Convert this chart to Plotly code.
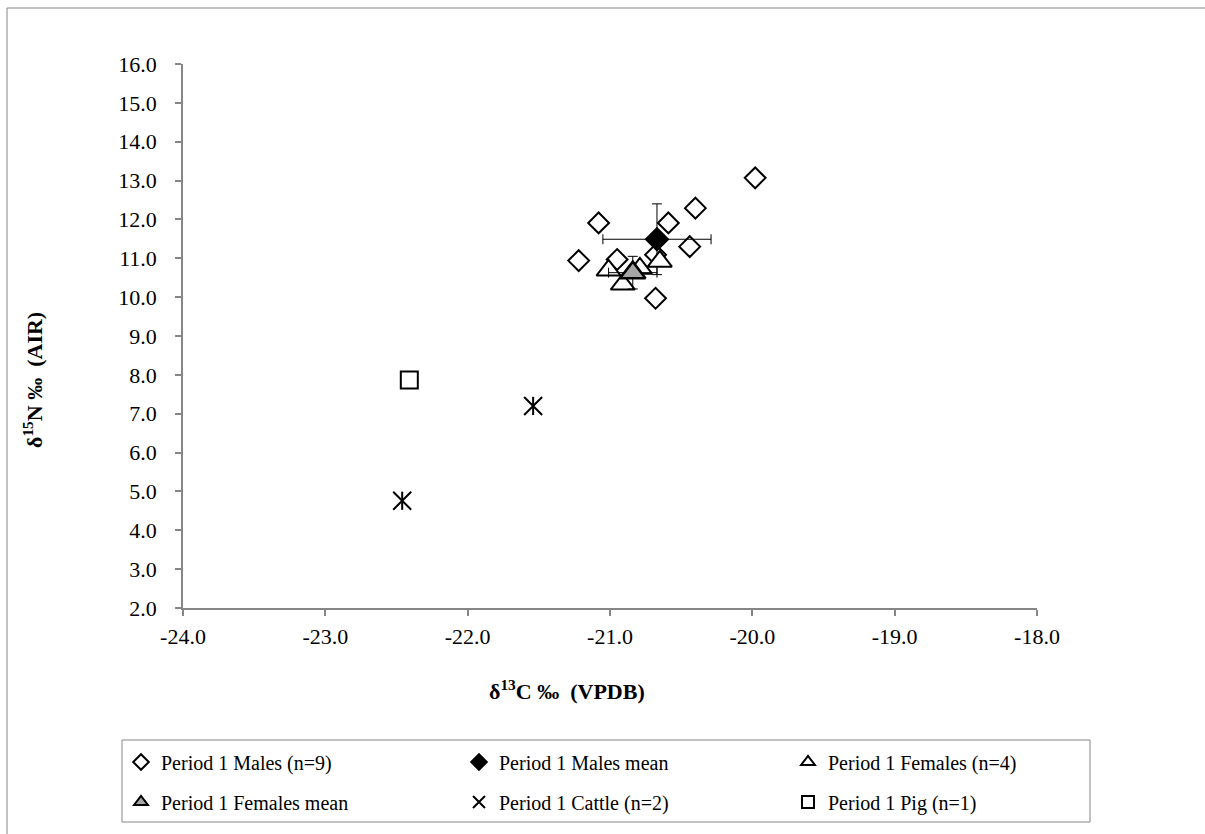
import plotly.graph_objects as go

# ---- data ----
males_x = [-19.98, -20.40, -21.08, -20.59, -20.44, -21.22, -20.95, -20.68, -20.68]
males_y = [13.07, 12.29, 11.91, 11.91, 11.30, 10.94, 10.97, 11.09, 9.97]

males_mean_x = [-20.67]
males_mean_y = [11.49]
males_sd_x = [0.38]
males_sd_y = [0.91]

females_x = [-21.01, -20.91, -20.79, -20.65]
females_y = [10.69, 10.33, 10.74, 10.92]

females_mean_x = [-20.84]
females_mean_y = [10.63]
females_sd_x = [0.17]
females_sd_y = [0.42]

cattle_x = [-21.54, -22.46]
cattle_y = [7.20, 4.76]

pig_x = [-22.41]
pig_y = [7.87]

x_ticks = [-24, -23, -22, -21, -20, -19, -18]
x_tick_labels = ["-24.0", "-23.0", "-22.0", "-21.0", "-20.0", "-19.0", "-18.0"]
y_ticks = [2, 3, 4, 5, 6, 7, 8, 9, 10, 11, 12, 13, 14, 15, 16]
y_tick_labels = ["2.0", "3.0", "4.0", "5.0", "6.0", "7.0", "8.0", "9.0",
                 "10.0", "11.0", "12.0", "13.0", "14.0", "15.0", "16.0"]

FONT = "Liberation Serif"
AXIS_GREY = "#868686"

# plot area in pixels (for placing paper-referenced extras)
W, H = 1205, 834
L, R, T, B = 183, 168, 64, 226
PW, PH = W - L - R, H - T - B


def px_x(p):
    return (p - L) / PW


def px_y(p):
    return (H - B - p) / PH


fig = go.Figure()

fig.add_trace(go.Scatter(
    x=males_x, y=males_y, mode="markers", name="Period 1 Males (n=9)",
    legend="legend",
    marker=dict(symbol="diamond", size=16, color="white",
                line=dict(color="black", width=2)),
))

fig.add_trace(go.Scatter(
    x=males_mean_x, y=males_mean_y, mode="markers", showlegend=False,
    marker=dict(size=1, color="rgba(0,0,0,0)"),
    error_x=dict(type="data", array=males_sd_x, color="black", thickness=1, width=5),
    error_y=dict(type="data", array=males_sd_y, color="black", thickness=1, width=5),
    hoverinfo="skip",
))
fig.add_trace(go.Scatter(
    x=males_mean_x, y=males_mean_y, mode="markers", name="Period 1 Males mean",
    legend="legend2",
    marker=dict(symbol="diamond", size=17, color="black",
                line=dict(color="black", width=2)),
))

fig.add_trace(go.Scatter(
    x=females_x, y=females_y, mode="markers", name="Period 1 Females (n=4)",
    legend="legend3",
    marker=dict(symbol="triangle-up", size=21, color="white",
                line=dict(color="black", width=2)),
))

fig.add_trace(go.Scatter(
    x=females_mean_x, y=females_mean_y, mode="markers", showlegend=False,
    marker=dict(size=1, color="rgba(0,0,0,0)"),
    error_x=dict(type="data", array=females_sd_x, color="black", thickness=1, width=5),
    error_y=dict(type="data", array=females_sd_y, color="black", thickness=1, width=5),
    hoverinfo="skip",
))
fig.add_trace(go.Scatter(
    x=females_mean_x, y=females_mean_y, mode="markers", name="Period 1 Females mean",
    legend="legend4",
    marker=dict(symbol="triangle-up", size=22, color="#a6a6a6",
                line=dict(color="black", width=2.5)),
))

fig.add_trace(go.Scatter(
    x=cattle_x, y=cattle_y, mode="markers", name="Period 1 Cattle (n=2)",
    legend="legend5",
    marker=dict(symbol="x-thin-open", size=18, color="black",
                line=dict(color="black", width=2)),
))
fig.add_trace(go.Scatter(
    x=cattle_x, y=cattle_y, mode="markers", showlegend=False,
    marker=dict(symbol="line-ns-open", size=13, color="black",
                line=dict(color="black", width=2)),
    hoverinfo="skip",
))

fig.add_trace(go.Scatter(
    x=pig_x, y=pig_y, mode="markers", name="Period 1 Pig (n=1)",
    legend="legend6",
    marker=dict(symbol="square", size=17, color="white",
                line=dict(color="black", width=2)),
))

axis_common = dict(
    showline=True, linecolor=AXIS_GREY, linewidth=1.5,
    ticks="outside", ticklen=6, tickcolor=AXIS_GREY, tickwidth=1.5,
    showgrid=False, zeroline=False,
    tickfont=dict(family=FONT, size=22, color="black"),
)


def legend_at(px_left, px_center_y):
    return dict(
        orientation="h", xref="container", yref="container",
        x=px_left / W, y=(H - px_center_y) / H,
        xanchor="left", yanchor="middle",
        borderwidth=0, bgcolor="rgba(0,0,0,0)",
        font=dict(family=FONT, size=20, color="black"),
        itemsizing="constant",
    )


col_left = [121, 459, 788]
row_center = [762, 802]

fig.update_layout(
    width=W, height=H,
    margin=dict(l=L, r=R, t=T, b=B, autoexpand=False),
    paper_bgcolor="white", plot_bgcolor="white",
    font=dict(family=FONT, color="black"),
    xaxis=dict(range=[-24, -18], tickvals=x_ticks, ticktext=x_tick_labels,
               ticklabelstandoff=2, **axis_common),
    yaxis=dict(range=[2, 16], tickvals=y_ticks, ticktext=y_tick_labels,
               ticklabelstandoff=14, **axis_common),
    legend=legend_at(col_left[0], row_center[0]),
    legend2=legend_at(col_left[1], row_center[0]),
    legend3=legend_at(col_left[2], row_center[0]),
    legend4=legend_at(col_left[0], row_center[1]),
    legend5=legend_at(col_left[1], row_center[1]),
    legend6=legend_at(col_left[2], row_center[1]),
    showlegend=True,
    annotations=[
        dict(text="<b>δ<sup>13</sup>C ‰\u00a0\u00a0(VPDB)</b>", xref="paper", yref="paper",
             x=px_x(567), y=px_y(690), xanchor="center", yanchor="middle",
             showarrow=False, font=dict(family=FONT, size=22, color="black")),
        dict(text="<b>δ<sup>15</sup>N ‰\u00a0\u00a0(AIR)</b>", xref="paper", yref="paper",
             x=px_x(33), y=px_y(380), xanchor="center", yanchor="middle",
             textangle=-90, showarrow=False,
             font=dict(family=FONT, size=22, color="black")),
    ],
    shapes=[
        # outer chart border
        dict(type="rect", xref="paper", yref="paper",
             x0=px_x(7), x1=px_x(1212), y0=px_y(842), y1=px_y(8),
             line=dict(color=AXIS_GREY, width=1), fillcolor="rgba(0,0,0,0)",
             layer="below"),
        # legend box
        dict(type="rect", xref="paper", yref="paper",
             x0=px_x(122), x1=px_x(1090), y0=px_y(822), y1=px_y(740),
             line=dict(color=AXIS_GREY, width=1), fillcolor="rgba(0,0,0,0)",
             layer="below"),
    ],
)

fig.write_html("out.html", config={"displayModeBar": False},
               post_script="document.body.style.margin='0px';")
